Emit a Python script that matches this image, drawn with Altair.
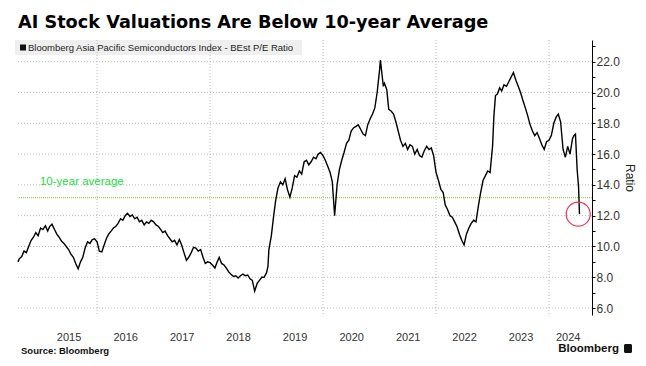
import altair as alt
import pandas as pd

# ---------------- data ----------------
dates = [
    "2014-08-08", "2014-08-16", "2014-09-01", "2014-09-16", "2014-10-01", "2014-10-16", "2014-11-01", "2014-11-16", "2014-12-01", "2014-12-16",
    "2015-01-01", "2015-01-16", "2015-02-01", "2015-02-16", "2015-03-01", "2015-03-16", "2015-04-01", "2015-04-16", "2015-05-01", "2015-05-16",
    "2015-06-01", "2015-06-16", "2015-07-01", "2015-07-16", "2015-08-01", "2015-08-16", "2015-09-01", "2015-09-16", "2015-10-01", "2015-10-16",
    "2015-11-01", "2015-11-16", "2015-12-01", "2015-12-16",
    "2016-01-01", "2016-01-16", "2016-02-01", "2016-02-16", "2016-03-01", "2016-03-16", "2016-04-01", "2016-04-16", "2016-05-01", "2016-05-16",
    "2016-06-01", "2016-06-16", "2016-07-01", "2016-07-16", "2016-08-01", "2016-08-16", "2016-09-01", "2016-09-16", "2016-10-01", "2016-10-16",
    "2016-11-01", "2016-11-16", "2016-12-01", "2016-12-16",
    "2017-01-01", "2017-01-16", "2017-02-01", "2017-02-16", "2017-03-01", "2017-03-16", "2017-04-01", "2017-04-16", "2017-05-01", "2017-05-16",
    "2017-06-01", "2017-06-16", "2017-07-01", "2017-07-16", "2017-08-01", "2017-08-16", "2017-09-01", "2017-09-16", "2017-10-01", "2017-10-16",
    "2017-11-01", "2017-11-16", "2017-12-01", "2017-12-16",
    "2018-01-01", "2018-01-16", "2018-02-01", "2018-02-16", "2018-03-01", "2018-03-16", "2018-04-01", "2018-04-16", "2018-05-01", "2018-05-16",
    "2018-06-01", "2018-06-16", "2018-07-01", "2018-07-16", "2018-08-01", "2018-08-16", "2018-09-01", "2018-09-16", "2018-10-01", "2018-10-16",
    "2018-11-01", "2018-11-16", "2018-12-01", "2018-12-16",
    "2019-01-01", "2019-01-10", "2019-01-16", "2019-02-01", "2019-02-16", "2019-03-01", "2019-03-16", "2019-04-01", "2019-04-16", "2019-05-01",
    "2019-05-16", "2019-06-01", "2019-06-16", "2019-07-01", "2019-07-16", "2019-08-01", "2019-08-16", "2019-09-01", "2019-09-16", "2019-10-01",
    "2019-10-16", "2019-11-01", "2019-11-16", "2019-12-01", "2019-12-16",
    "2020-01-01", "2020-01-16", "2020-02-01", "2020-02-16", "2020-03-01", "2020-03-16", "2020-04-01", "2020-04-16", "2020-05-01", "2020-05-16",
    "2020-06-01", "2020-06-16", "2020-07-01", "2020-07-16", "2020-08-01", "2020-08-16", "2020-09-01", "2020-09-16", "2020-10-01", "2020-10-16",
    "2020-11-01", "2020-11-16", "2020-12-01", "2020-12-16",
    "2021-01-01", "2021-01-06", "2021-01-16", "2021-01-25", "2021-02-01", "2021-02-16", "2021-03-01", "2021-03-16", "2021-04-01", "2021-04-16",
    "2021-05-01", "2021-05-16", "2021-06-01", "2021-06-16", "2021-07-01", "2021-07-16", "2021-08-01", "2021-08-16", "2021-09-01", "2021-09-16",
    "2021-10-01", "2021-10-16", "2021-11-01", "2021-11-16", "2021-12-01", "2021-12-16",
    "2022-01-01", "2022-01-16", "2022-02-01", "2022-02-16", "2022-03-01", "2022-03-16", "2022-04-01", "2022-04-16", "2022-05-01", "2022-05-16",
    "2022-06-01", "2022-06-16", "2022-07-01", "2022-07-16", "2022-08-01", "2022-08-16", "2022-09-01", "2022-09-16", "2022-10-01", "2022-10-16",
    "2022-11-01", "2022-11-16", "2022-12-01", "2022-12-16",
    "2023-01-01", "2023-01-10", "2023-01-20", "2023-02-01", "2023-02-16", "2023-03-01", "2023-03-16", "2023-04-01", "2023-04-16", "2023-05-01",
    "2023-05-16", "2023-06-01", "2023-06-16", "2023-07-01", "2023-07-16", "2023-08-01", "2023-08-16", "2023-09-01", "2023-09-16", "2023-10-01",
    "2023-10-16", "2023-11-01", "2023-11-16", "2023-12-01", "2023-12-16",
    "2024-01-01", "2024-01-16", "2024-02-01", "2024-02-16", "2024-03-01", "2024-03-16", "2024-04-01", "2024-04-16", "2024-05-01", "2024-05-16",
    "2024-06-01", "2024-06-10", "2024-06-20", "2024-07-01", "2024-07-05", "2024-07-10", "2024-07-16",
]
ratios = [
    9.0, 9.2, 9.35, 9.7, 9.6, 10.0, 10.4, 10.6, 10.9, 10.7,
    11.2, 11.1, 11.35, 11.0, 11.3, 11.45, 11.1, 10.8, 10.6, 10.35,
    10.2, 10.0, 9.8, 9.5, 9.3, 8.9, 8.55, 9.0, 9.3, 9.9,
    10.3, 10.2, 10.45, 10.5,
    10.3, 9.7, 9.65, 10.1, 10.5, 10.8, 11.0, 11.2, 11.3, 11.5,
    11.8, 11.7, 12.0, 12.15, 11.95, 12.05, 11.8, 11.9, 11.6, 11.7,
    11.4, 11.6, 11.5, 11.7,
    11.6, 11.4, 11.3, 11.1, 10.9, 11.0, 10.7, 10.5, 10.3, 10.4,
    10.1, 10.45, 10.1, 9.6, 9.1, 9.3, 9.6, 9.95, 9.9, 9.7,
    9.8, 9.3, 8.9, 9.0,
    8.95, 8.8, 8.6, 9.0, 9.3, 8.9, 8.8, 8.6, 8.35, 8.2,
    8.05, 8.1, 7.95, 8.1, 8.2, 8.1, 8.15, 7.9, 7.8, 7.1,
    7.6, 7.8, 8.0, 8.0,
    8.3, 8.7, 9.8, 10.7, 12.0, 13.0, 13.8, 14.2, 14.0, 14.4,
    13.7, 13.2, 13.8, 14.6, 14.5, 14.9, 14.7, 15.5, 15.6, 15.3,
    15.5, 15.8, 15.7, 16.0, 16.1,
    15.9, 15.6, 15.2, 14.8, 14.2, 12.0, 14.0, 15.0, 15.6, 16.1,
    16.7, 16.9, 17.5, 17.7, 17.8, 17.9, 17.6, 17.3, 17.2, 17.9,
    18.3, 18.6, 19.0, 20.0,
    21.5, 22.1, 21.2, 20.4, 20.6, 20.2, 18.9, 18.8, 18.6, 18.1,
    17.5, 16.9, 16.5, 16.7, 16.3, 16.6, 16.5, 16.0, 16.3, 15.9,
    15.8, 16.2, 16.5, 16.3, 16.4, 15.9,
    14.8, 14.3, 13.7, 13.5, 12.7, 12.4, 12.0, 11.9, 11.6, 11.3,
    10.8, 10.4, 10.1, 10.8, 11.2, 11.5, 11.7, 11.6, 12.6, 13.5,
    14.3, 14.6, 14.9, 14.8,
    16.5, 18.5, 19.8, 19.9, 20.3, 20.1, 20.5, 20.4, 20.7, 21.0,
    21.3, 20.8, 20.4, 20.0, 19.5, 19.0, 18.5, 17.9, 17.5, 17.2,
    17.4, 17.0, 16.6, 16.3, 16.8,
    16.9, 17.2, 18.0, 18.4, 18.6, 18.1, 16.3, 15.8, 16.5, 16.0,
    17.0, 17.2, 17.3, 15.0, 14.5, 13.9, 12.1,
]

avg_value = [13.17]
avg_label = ["10-year average"]
avg_label_date = ["2014-12-28"]
avg_label_value = [14.2]

circle_date = ["2024-07-08"]
circle_value = [12.1]

y_grid_values = [6, 8, 10, 12, 14, 16, 18, 20, 22]
y_tick_values = list(range(6, 24))
x_grid_dates = ["2016-01-01", "2018-01-01", "2020-01-01", "2022-01-01", "2024-01-01"]
year_label_years = [2015, 2016, 2017, 2018, 2019, 2020, 2021, 2022, 2023, 2024]
year_label_months = [7, 7, 7, 7, 7, 7, 7, 7, 7, 5]

title_text = ["AI Stock Valuations Are Below 10-year Average"]
legend_text = ["Bloomberg Asia Pacific Semiconductors Index - BEst P/E Ratio"]
source_text = ["Source: Bloomberg"]
brand_text = ["Bloomberg"]

# ---------------- chart ----------------
df = pd.DataFrame({"date": pd.to_datetime(dates), "ratio": ratios})

x_scale = alt.Scale(domain=[alt.DateTime(year=2014, month=8, date=8),
                            alt.DateTime(year=2024, month=10, date=5)])
y_scale = alt.Scale(domain=[5.55, 23.41], nice=False, zero=False)

x_axis = alt.Axis(
    values=[alt.DateTime(year=y, month=m, date=1) for y, m in zip(year_label_years, year_label_months)],
    format="%Y", domain=False, ticks=False, tickSize=0, grid=False,
    labelPadding=16, labelFontSize=11, labelColor="#333333", labelFont="Liberation Sans",
    labelFlush=False, labelOverlap=False, title=None,
)
y_axis = alt.Axis(
    orient="right", values=y_tick_values,
    labelExpr="datum.value % 2 == 0 ? format(datum.value, '.1f') : ''",
    grid=False, domainColor="#000000", domainWidth=1, tickColor="#000000", tickSize=3,
    labelPadding=1, labelFontSize=12, labelColor="#333333", labelFont="Liberation Sans",
    title="Ratio", titleFontSize=12, titleFontWeight="normal", titleColor="#222222",
    titleFont="Liberation Sans", titlePadding=3,
)

X = alt.X("date:T", scale=x_scale, axis=x_axis)
Y = alt.Y("ratio:Q", scale=y_scale, axis=y_axis)

one = pd.DataFrame({"k": [0]})

legend_box = alt.Chart(one).mark_rect(color="#efefef").encode(
    x=alt.value(-3), x2=alt.value(284), y=alt.value(0), y2=alt.value(15))

hgrid = alt.Chart(pd.DataFrame({"ratio": y_grid_values})).mark_rule(
    color="#b8b8b8", strokeDash=[1, 2], strokeWidth=1).encode(y=Y)

vgrid = alt.Chart(pd.DataFrame({"date": pd.to_datetime(x_grid_dates)})).mark_rule(
    color="#b8b8b8", strokeDash=[1, 2], strokeWidth=1).encode(x=X)

avg_rule = alt.Chart(pd.DataFrame({"ratio": avg_value})).mark_rule(
    color="#a2d548", strokeDash=[1, 1], strokeWidth=1.4).encode(y=Y)

avg_text = alt.Chart(pd.DataFrame({"date": pd.to_datetime(avg_label_date), "ratio": avg_label_value,
                                   "label": avg_label})).mark_text(
    align="left", baseline="middle", color="#22dd44", fontSize=11.5, font="Liberation Sans").encode(
    x=X, y=Y, text="label:N")

line = alt.Chart(df).mark_line(color="#000000", strokeWidth=1.4).encode(x=X, y=Y)

circle = alt.Chart(pd.DataFrame({"date": pd.to_datetime(circle_date), "ratio": circle_value})).mark_point(
    shape="circle", filled=False, color="#ee3553", strokeWidth=1.2, size=576, opacity=1).encode(x=X, y=Y)

title = alt.Chart(pd.DataFrame({"t": title_text})).mark_text(
    align="left", baseline="alphabetic", font="DejaVu Sans", fontWeight="bold", fontSize=17.7,
    color="#000000").encode(x=alt.value(0), y=alt.value(-12), text="t:N")

legend_sq = alt.Chart(one).mark_rect(color="#111111").encode(
    x=alt.value(2), x2=alt.value(8), y=alt.value(4.5), y2=alt.value(10.5))

legend_lbl = alt.Chart(pd.DataFrame({"t": legend_text})).mark_text(
    align="left", baseline="middle", font="Liberation Sans", fontSize=9.5, color="#222222").encode(
    x=alt.value(10), y=alt.value(8), text="t:N")

source = alt.Chart(pd.DataFrame({"t": source_text})).mark_text(
    align="left", baseline="alphabetic", font="Liberation Sans", fontWeight="bold", fontSize=9.5,
    color="#111111").encode(x=alt.value(3), y=alt.value(314), text="t:N")

brand = alt.Chart(pd.DataFrame({"t": brand_text})).mark_text(
    align="right", baseline="alphabetic", font="Liberation Sans", fontWeight="bold", fontSize=11.5,
    color="#111111").encode(x=alt.value(601), y=alt.value(312), text="t:N")

logo = alt.Chart(one).mark_rect(color="#111111", cornerRadius=1.5).encode(
    x=alt.value(606), x2=alt.value(614), y=alt.value(304), y2=alt.value(313))

chart = alt.layer(
    legend_box, hgrid, vgrid, avg_rule, line, circle, avg_text,
    title, legend_sq, legend_lbl, source, brand, logo,
).properties(
    width=574, height=275,
    autosize=alt.AutoSizeParams(type="none"),
    padding={"left": 10, "top": 32, "right": 46, "bottom": 43},
    background="#ffffff",
).configure_view(strokeWidth=0)

chart.save("out.html", embed_options={"renderer": "svg", "actions": False})
